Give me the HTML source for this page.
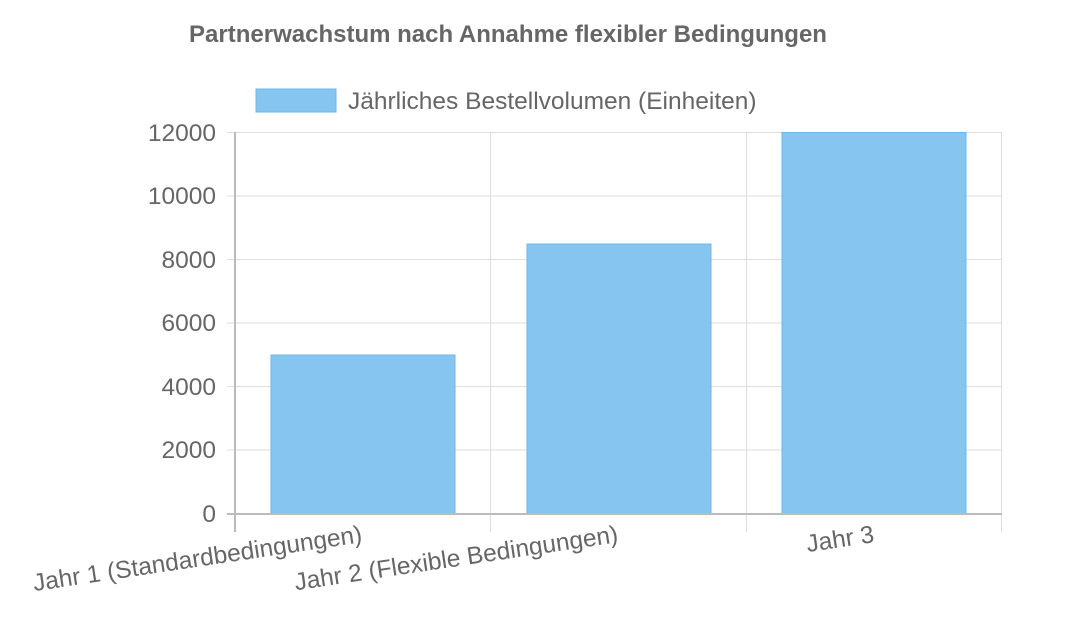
<!DOCTYPE html>
<html><head><meta charset="utf-8"><style>
body{margin:0;background:#fff}
svg{display:block}
text{font-family:"Liberation Sans",sans-serif;fill:#666}
</style></head><body>
<svg width="1073" height="620" viewBox="0 0 1073 620">
<text x="508" y="42" text-anchor="middle" font-size="24" font-weight="bold">Partnerwachstum nach Annahme flexibler Bedingungen</text>
<rect x="256" y="89" width="80" height="23" fill="#85c5f0" stroke="#6fb7ea" stroke-width="1"/>
<text x="348" y="109" font-size="24.5">Jährliches Bestellvolumen (Einheiten)</text>
<g stroke="#ddd" stroke-width="1">
<line x1="227" y1="132.5" x2="1002" y2="132.5"/>
<line x1="227" y1="196" x2="1002" y2="196"/>
<line x1="227" y1="259.5" x2="1002" y2="259.5"/>
<line x1="227" y1="323" x2="1002" y2="323"/>
<line x1="227" y1="386.5" x2="1002" y2="386.5"/>
<line x1="227" y1="450" x2="1002" y2="450"/>
<line x1="490.5" y1="132" x2="490.5" y2="532"/>
<line x1="746.5" y1="132" x2="746.5" y2="532"/>
<line x1="1001.5" y1="132" x2="1001.5" y2="532"/>
</g>
<g fill="#85c5f0" stroke="#6fb7ea">
<rect x="271" y="355" width="184" height="159"/>
<rect x="527" y="244" width="184" height="270"/>
<rect x="782" y="132.5" width="184" height="381.5"/>
</g>
<g stroke="#bbb" stroke-width="2">
<line x1="235" y1="132" x2="235" y2="532"/>
<line x1="227" y1="514" x2="1002" y2="514"/>
</g>
<g font-size="24.5" text-anchor="end">
<text x="216" y="141">12000</text>
<text x="216" y="204">10000</text>
<text x="216" y="268">8000</text>
<text x="216" y="331">6000</text>
<text x="216" y="395">4000</text>
<text x="216" y="458">2000</text>
<text x="216" y="522">0</text>
</g>
<g font-size="24.5" text-anchor="end">
<text transform="translate(363,542) rotate(-8.5)">Jahr 1 (Standardbedingungen)</text>
<text transform="translate(619,542) rotate(-8.5)">Jahr 2 (Flexible Bedingungen)</text>
<text transform="translate(875,542) rotate(-8.5)">Jahr 3</text>
</g>
</svg>
</body></html>
